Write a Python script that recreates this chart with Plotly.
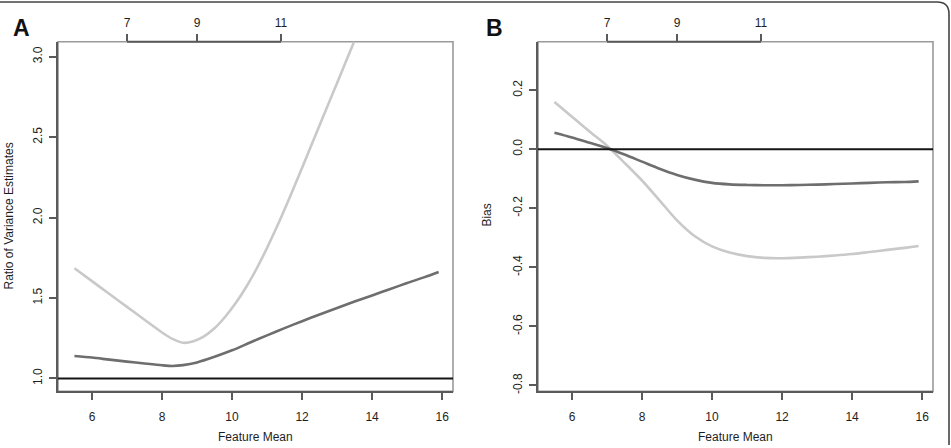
import plotly.graph_objects as go

# ---------------- data ----------------
feature_mean_A_light = [5.5, 6.0, 6.5, 7.0, 7.5, 8.0, 8.3, 8.6, 8.9, 9.2, 9.5, 9.8, 10.1, 10.4, 10.7, 11.0, 11.3, 11.6, 11.9, 12.2, 12.6, 13.0, 13.4, 13.7]
ratio_A_light = [1.685, 1.605, 1.525, 1.445, 1.365, 1.286, 1.246, 1.222, 1.232, 1.262, 1.312, 1.382, 1.467, 1.567, 1.682, 1.812, 1.952, 2.102, 2.257, 2.415, 2.626, 2.837, 3.048, 3.206]

feature_mean_A_dark = [5.5, 6.0, 6.5, 7.0, 7.5, 8.0, 8.3, 8.6, 9.0, 9.5, 10.0, 10.5, 11.0, 11.5, 12.0, 12.5, 13.0, 13.5, 14.0, 14.5, 15.0, 15.5, 15.9]
ratio_A_dark = [1.14, 1.13, 1.117, 1.105, 1.093, 1.082, 1.078, 1.083, 1.10, 1.135, 1.175, 1.222, 1.268, 1.313, 1.356, 1.398, 1.438, 1.478, 1.516, 1.555, 1.593, 1.630, 1.662]

feature_mean_B = [5.5, 6.0, 6.5, 7.0, 7.5, 8.0, 8.5, 9.0, 9.5, 10.0, 10.5, 11.0, 11.5, 12.0, 12.5, 13.0, 13.5, 14.0, 14.5, 15.0, 15.5, 15.9]
bias_B_light = [0.160, 0.110, 0.060, 0.012, -0.046, -0.106, -0.173, -0.241, -0.294, -0.329, -0.350, -0.362, -0.368, -0.369, -0.367, -0.364, -0.360, -0.355, -0.348, -0.341, -0.334, -0.328]
bias_B_dark = [0.056, 0.040, 0.022, 0.004, -0.018, -0.042, -0.066, -0.087, -0.103, -0.114, -0.119, -0.121, -0.122, -0.122, -0.121, -0.120, -0.118, -0.116, -0.114, -0.112, -0.111, -0.109]

ref_A = 1.0
ref_B = 0.0

bottom_ticks = [6, 8, 10, 12, 14, 16]
ticks_A = [1.0, 1.5, 2.0, 2.5, 3.0]
tick_text_A = ["1.0", "1.5", "2.0", "2.5", "3.0"]
ticks_B = [-0.8, -0.6, -0.4, -0.2, 0.0, 0.2]
tick_text_B = ["-0.8", "-0.6", "-0.4", "-0.2", "0.0", "0.2"]
top_tick_labels = ["7", "9", "11"]
top_tick_positions = [7.0, 9.0, 11.4]

x_range = [5.03, 16.31]
yA_range = [0.92, 3.093]
yB_range = [-0.82, 0.364]

# ---------------- style ----------------
W, H = 951, 448
LIGHT = "#c9c9c9"
DARK = "#6e6e6e"
AXIS = "#5a5a5a"
BOX = "#9a9a9a"
TXT = "#1e1e1e"
FONT = "Liberation Sans, Arial, Helvetica, sans-serif"

def px_x(p):
    return p / W

def px_y(p):
    return 1 - p / H

domA_x = [px_x(58), px_x(453)]
domB_x = [px_x(538), px_x(933)]
dom_y = [px_y(394), px_y(42)]

fig = go.Figure()

def curve(x, y, color, xa, ya):
    return go.Scatter(x=x, y=y, mode="lines",
                      line=dict(color=color, width=2.6, shape="spline", smoothing=0.8),
                      xaxis=xa, yaxis=ya, showlegend=False, hoverinfo="skip")

fig.add_trace(curve(feature_mean_A_light, ratio_A_light, LIGHT, "x", "y"))
fig.add_trace(curve(feature_mean_A_dark, ratio_A_dark, DARK, "x", "y"))
fig.add_trace(curve(feature_mean_B, bias_B_light, LIGHT, "x2", "y2"))
fig.add_trace(curve(feature_mean_B, bias_B_dark, DARK, "x2", "y2"))
# invisible traces so the top axes are drawn
fig.add_trace(go.Scatter(x=[top_tick_positions[0]], y=[ref_A], mode="markers", opacity=0,
                         xaxis="x3", yaxis="y", showlegend=False, hoverinfo="skip"))
fig.add_trace(go.Scatter(x=[top_tick_positions[0]], y=[ref_B], mode="markers", opacity=0,
                         xaxis="x4", yaxis="y2", showlegend=False, hoverinfo="skip"))

tickfont = dict(family=FONT, size=12, color=TXT)

common_x = dict(range=x_range, showgrid=False, zeroline=False, showline=True,
                linecolor=AXIS, linewidth=2, ticks="outside", ticklen=7, tickwidth=1.5,
                tickcolor=AXIS, tickvals=bottom_ticks, tickfont=tickfont, fixedrange=True,
                ticklabelstandoff=6)
common_y = dict(showgrid=False, zeroline=False, showline=True, linecolor=AXIS, linewidth=2,
                ticks="outside", ticklen=7, tickwidth=1.5, tickcolor=AXIS,
                tickangle=-90, tickfont=tickfont, fixedrange=True, ticklabelstandoff=2)
top_x = dict(range=x_range, showgrid=False, zeroline=False, showline=False, side="top",
             ticks="outside", ticklen=7, tickwidth=1.5, tickcolor=AXIS,
             tickvals=top_tick_positions, ticktext=top_tick_labels, tickfont=tickfont,
             fixedrange=True, ticklabelstandoff=2)

fig.update_layout(
    width=W, height=H,
    margin=dict(l=0, r=0, t=0, b=0),
    paper_bgcolor="white", plot_bgcolor="white",
    xaxis=dict(domain=domA_x, anchor="y", **common_x),
    yaxis=dict(domain=dom_y, anchor="x", range=yA_range, tickvals=ticks_A,
               ticktext=tick_text_A, **common_y),
    xaxis2=dict(domain=domB_x, anchor="y2", **common_x),
    yaxis2=dict(domain=dom_y, anchor="x2", range=yB_range, tickvals=ticks_B,
                ticktext=tick_text_B, **common_y),
    xaxis3=dict(overlaying="x", anchor="y", **top_x),
    xaxis4=dict(overlaying="x2", anchor="y2", **top_x),
)

shapes = []
for xd, yd, yref, ref in [("x domain", "y domain", "y", ref_A), ("x2 domain", "y2 domain", "y2", ref_B)]:
    shapes.append(dict(type="rect", xref=xd, yref=yd, x0=0, x1=1, y0=0, y1=1,
                       line=dict(color=BOX, width=1.6), layer="below"))
    shapes.append(dict(type="line", xref=xd, yref=yref, x0=0, x1=1, y0=ref, y1=ref,
                       line=dict(color="#151515", width=2)))
for xr, yd in [("x", "y domain"), ("x2", "y2 domain")]:
    shapes.append(dict(type="line", xref=xr, yref=yd, x0=min(top_tick_positions),
                       x1=max(top_tick_positions), y0=1, y1=1,
                       line=dict(color=AXIS, width=2)))
# outer frame (top and right edges with rounded corner)
r = 12
path = (f"M {px_x(0)},{px_y(2)} L {px_x(949 - r)},{px_y(2)} "
        f"Q {px_x(949)},{px_y(2)} {px_x(949)},{px_y(2 + r)} L {px_x(949)},{px_y(448)}")
shapes.append(dict(type="path", xref="paper", yref="paper", path=path,
                   line=dict(color="#444444", width=1.6)))
fig.update_layout(shapes=shapes)

def note(text, x, y, size=12, angle=0, color=TXT):
    return dict(text=text, x=px_x(x), y=px_y(y), xref="paper", yref="paper",
                xanchor="center", yanchor="middle", textangle=angle, showarrow=False,
                font=dict(family=FONT, size=size, color=color))

ann = [
    note("<b>A</b>", 21, 28, size=23, color="#111"),
    note("<b>B</b>", 494, 28, size=23, color="#111"),
    note("Feature Mean", 255.5, 440),
    note("Feature Mean", 735.5, 440),
    note("Ratio of Variance Estimates", 9, 218, angle=-90),
    note("Bias", 487, 217, angle=-90),
]
fig.update_layout(annotations=ann)

fig.write_html("out.html")
